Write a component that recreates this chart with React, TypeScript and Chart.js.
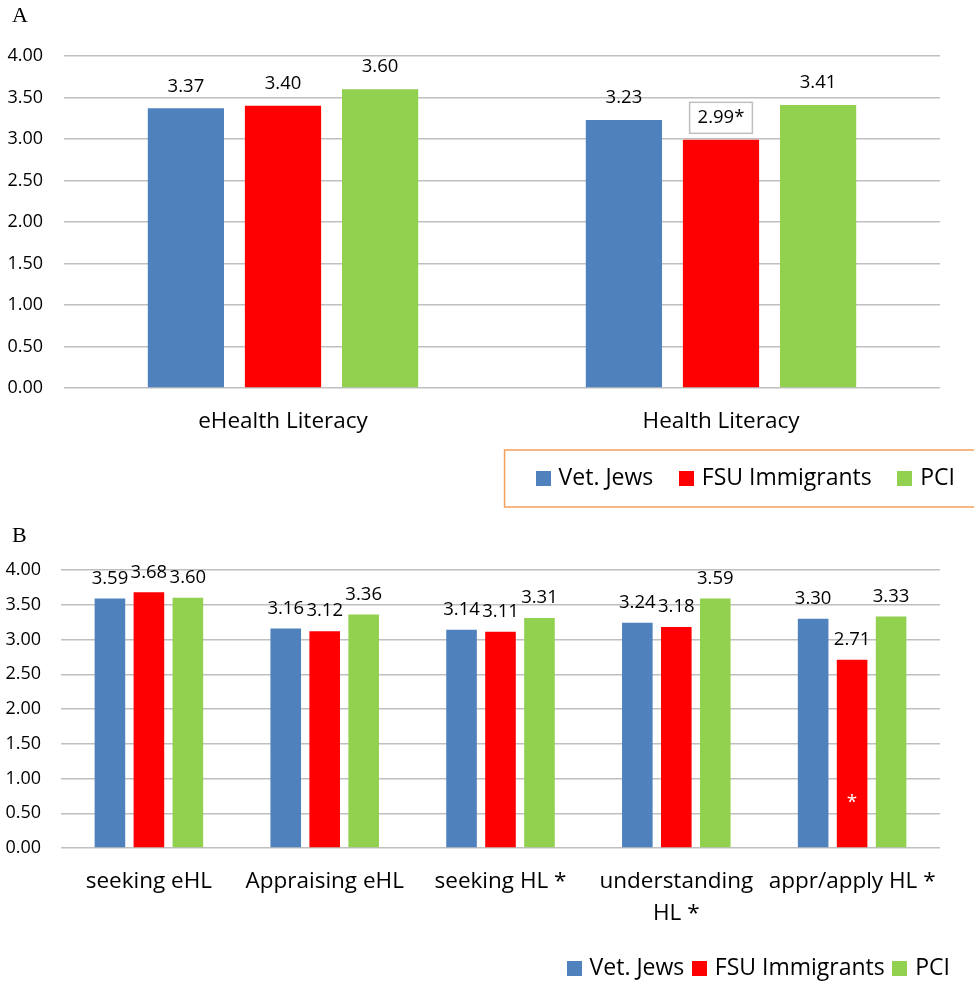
import React, { useEffect, useRef } from "react";
import { Chart, registerables } from "chart.js";

Chart.register(...registerables);

// ---------- Data ----------
const seriesNames = ["Vet. Jews", "FSU Immigrants", "PCI"];
const seriesColors = ["#4F81BD", "#FF0000", "#92D050"];

const categoriesA = ["eHealth Literacy", "Health Literacy"];
const vetJewsA = [3.37, 3.23];
const fsuA = [3.4, 2.99];
const pciA = [3.6, 3.41];
// label suffix per series/category (significance marks)
const suffixA = [["", ""], ["", "*"], ["", ""]];
const boxedA = [[false, false], [false, true], [false, false]];

const categoriesB = [
  "seeking eHL",
  "Appraising eHL",
  "seeking HL *",
  ["understanding", "HL *"],
  "appr/apply HL *",
];
const vetJewsB = [3.59, 3.16, 3.14, 3.24, 3.3];
const fsuB = [3.68, 3.12, 3.11, 3.18, 2.71];
const pciB = [3.6, 3.36, 3.31, 3.59, 3.33];
// white asterisk inside a bar: [seriesIndex, categoryIndex, value position]
const innerStarB = [[1, 4, 0.65]];

const yTicks = [0, 0.5, 1, 1.5, 2, 2.5, 3, 3.5, 4];

const FONT = "'Open Sans', 'Noto Sans', sans-serif";
const GRID = "#BFBFBF";

function swatch(color: string) {
  const c = document.createElement("canvas");
  c.width = 15;
  c.height = 15;
  const g = c.getContext("2d")!;
  g.fillStyle = color;
  g.fillRect(0, 0, 15, 15);
  return c;
}

function makeLabelPlugin(offset: number, suffix: string[][] | null, boxed: boolean[][] | null, stars: number[][] | null) {
  return {
    id: "valueLabels",
    afterDatasetsDraw(chart: any) {
      const ctx = chart.ctx;
      ctx.save();
      ctx.font = `18.5px ${FONT}`;
      ctx.textAlign = "center";
      ctx.textBaseline = "middle";
      chart.data.datasets.forEach((ds: any, di: number) => {
        const meta = chart.getDatasetMeta(di);
        meta.data.forEach((bar: any, i: number) => {
          const v = ds.data[i];
          const txt = v.toFixed(2) + (suffix ? suffix[di][i] : "");
          const x = bar.x;
          const y = bar.y - offset;
          if (boxed && boxed[di][i]) {
            const w = ctx.measureText(txt).width + 16;
            const h = 31;
            ctx.fillStyle = "#FFFFFF";
            ctx.fillRect(x - w / 2, y - h / 2, w, h);
            ctx.strokeStyle = "#BFBFBF";
            ctx.lineWidth = 1.5;
            ctx.strokeRect(x - w / 2, y - h / 2, w, h);
          }
          ctx.fillStyle = "#000000";
          ctx.fillText(txt, x, y);
        });
      });
      if (stars) {
        stars.forEach(([di, ci, val]) => {
          const bar = chart.getDatasetMeta(di).data[ci];
          const y = chart.scales.y.getPixelForValue(val);
          ctx.fillStyle = "#FFFFFF";
          ctx.font = `19px ${FONT}`;
          ctx.fillText("*", bar.x, y);
        });
      }
      ctx.restore();
    },
  };
}

const legendBoxPlugin = {
  id: "legendBox",
  afterDraw(chart: any) {
    const lg = chart.legend;
    if (!lg || !lg.legendHitBoxes || !lg.legendHitBoxes.length) return;
    const hb = lg.legendHitBoxes[0];
    const ctx = chart.ctx;
    const cy = hb.top + hb.height / 2;
    const x = hb.left - 3.5 - 31;
    ctx.save();
    ctx.strokeStyle = "#F5A05A";
    ctx.lineWidth = 1.5;
    ctx.strokeRect(x, cy - 28.5, chart.width - x + 20, 57);
    ctx.restore();
  },
};

function buildConfig(
  labels: any[],
  series: number[][],
  opts: {
    yWidth: number;
    tickPad: number;
    xHeight: number;
    xPad: number;
    rightWidth: number;
    padding: any;
    legendPad: number;
    plugins: any[];
  }
) {
  const swatches = seriesColors.map(swatch);
  return {
    type: "bar",
    data: {
      labels,
      datasets: series.map((d, i) => ({
        label: seriesNames[i],
        data: d,
        backgroundColor: seriesColors[i],
        borderWidth: 0,
        categoryPercentage: 0.665,
        barPercentage: 0.785,
        yAxisID: "y",
      })),
    },
    options: {
      animation: false,
      responsive: false,
      maintainAspectRatio: false,
      layout: { padding: opts.padding },
      scales: {
        x: {
          grid: { display: false, drawTicks: false },
          border: { display: false },
          ticks: {
            color: "#000",
            font: { family: FONT, size: 22.5, lineHeight: 1.4 },
            padding: opts.xPad,
            maxRotation: 0,
            autoSkip: false,
          },
          afterFit(s: any) {
            s.height = opts.xHeight;
          },
        },
        y: {
          min: 0,
          max: 4,
          afterBuildTicks(s: any) {
            s.ticks = yTicks.map((v) => ({ value: v }));
          },
          grid: { color: GRID, lineWidth: 1.5, drawTicks: false },
          border: { display: false },
          ticks: {
            color: "#000",
            font: { family: FONT, size: 18 },
            padding: opts.tickPad,
            callback: (v: any) => Number(v).toFixed(2),
          },
          afterFit(s: any) {
            s.width = opts.yWidth;
          },
        },
        yR: {
          position: "right",
          display: true,
          grid: { display: false, drawTicks: false },
          border: { display: false },
          ticks: { display: false },
          afterFit(s: any) {
            s.width = opts.rightWidth;
          },
        },
      },
      plugins: {
        legend: {
          position: "bottom",
          align: "end",
          labels: {
            usePointStyle: true,
            pointStyleWidth: 8,
            boxHeight: 15,
            padding: opts.legendPad,
            color: "#000",
            font: { family: FONT, size: 23 },
            generateLabels(chart: any) {
              const items = (Chart.defaults.plugins.legend.labels as any).generateLabels(chart);
              return items.map((it: any, i: number) => ({ ...it, pointStyle: swatches[i % swatches.length] }));
            },
          },
        },
        tooltip: { enabled: false },
        title: { display: false },
      },
    },
    plugins: opts.plugins,
  } as any;
}

function ChartA() {
  const ref = useRef<HTMLCanvasElement>(null);
  useEffect(() => {
    const c = new Chart(
      ref.current!,
      buildConfig(categoriesA, [vetJewsA, fsuA, pciA], {
        yWidth: 64,
        tickPad: 21,
        xHeight: 50,
        xPad: 18,
        rightWidth: 984 - 940,
        padding: { top: 56, left: 0, right: 0, bottom: 15 },
        legendPad: 29,
        plugins: [makeLabelPlugin(22, suffixA, boxedA, null), legendBoxPlugin],
      })
    );
    return () => c.destroy();
  }, []);
  return (
    <canvas
      ref={ref}
      width={984}
      height={515}
      style={{ position: "absolute", left: 0, top: 0, width: 984, height: 515 }}
    />
  );
}

function ChartB() {
  const ref = useRef<HTMLCanvasElement>(null);
  useEffect(() => {
    const c = new Chart(
      ref.current!,
      buildConfig(categoriesB, [vetJewsB, fsuB, pciB], {
        yWidth: 61,
        tickPad: 20,
        xHeight: 98,
        xPad: 18,
        rightWidth: 21,
        padding: { top: 55, left: 0, right: 13, bottom: 0 },
        legendPad: 11,
        plugins: [makeLabelPlugin(20, null, null, innerStarB)],
      })
    );
    return () => c.destroy();
  }, []);
  return (
    <canvas
      ref={ref}
      width={974}
      height={475}
      style={{ position: "absolute", left: 0, top: 515, width: 974, height: 475 }}
    />
  );
}

export default function App() {
  const letter: React.CSSProperties = {
    position: "absolute",
    left: 12,
    fontFamily: "'Liberation Serif', 'DejaVu Serif', serif",
    fontSize: 22,
    lineHeight: "25px",
    color: "#000",
  };
  return (
    <div
      style={{
        position: "absolute",
        left: 0,
        top: 0,
        width: 974,
        height: 984,
        overflow: "hidden",
        background: "#fff",
      }}
    >
      <ChartA />
      <ChartB />
      <div style={{ ...letter, top: 2 }}>A</div>
      <div style={{ ...letter, top: 522 }}>B</div>
    </div>
  );
}
